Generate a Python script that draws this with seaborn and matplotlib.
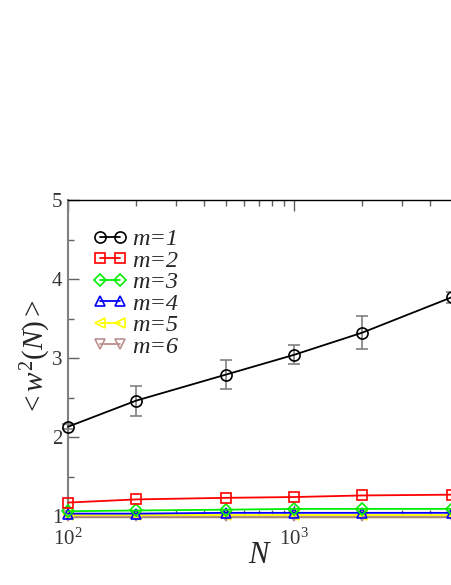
import numpy as np
import pandas as pd
import matplotlib
matplotlib.use('agg')
import matplotlib.pyplot as plt
import seaborn as sns
from matplotlib.ticker import LogLocator, MultipleLocator

# data
N = [100, 200, 500, 1000, 2000, 5000]
w2_m1 = [2.13, 2.46, 2.79, 3.04, 3.32, 3.77]
err_m1 = [0.03, 0.19, 0.18, 0.12, 0.21, 0.07]
w2_m2 = [1.17, 1.21, 1.23, 1.24, 1.26, 1.27]
w2_m3 = [1.06, 1.07, 1.08, 1.09, 1.09, 1.09]
w2_m4 = [1.03, 1.03, 1.04, 1.04, 1.04, 1.04]
w2_m5 = [1.01, 1.01, 1.01, 1.01, 1.01, 1.01]
w2_m6 = [1.00, 1.00, 1.00, 1.00, 1.00, 1.00]
labels = ['m=1', 'm=2', 'm=3', 'm=4', 'm=5', 'm=6']

series = [w2_m1, w2_m2, w2_m3, w2_m4, w2_m5, w2_m6]
colors = ['black', 'red', '#00ee00', 'blue', '#ffff00', '#bc8f8f']
markers = ['o', 's', 'D', '^', '<', 'v']
sizes = [8, 7, 6, 7, 7, 7]

sns.set_style('ticks')
plt.rcParams['font.family'] = ['Liberation Serif', 'DejaVu Serif']
plt.rcParams['mathtext.fontset'] = 'custom'
plt.rcParams['mathtext.rm'] = 'Liberation Serif'
plt.rcParams['mathtext.it'] = 'Liberation Serif:italic'

fig = plt.figure(figsize=(4.52, 5.85), dpi=100)
ax = fig.add_axes([68 / 452, 69 / 585, 1 - 68 / 452, 316 / 585])

# draw from bottom series up so m=1 is on top
for i in reversed(range(6)):
    sns.lineplot(x=N, y=series[i], ax=ax, color=colors[i], marker=markers[i],
                 markersize=sizes[i], markerfacecolor='none', markeredgecolor=colors[i],
                 markeredgewidth=1.2, linewidth=1.3, label=labels[i], clip_on=False,
                 zorder=3 + (6 - i))

ax.errorbar(N, w2_m1, yerr=err_m1, fmt='none', ecolor='#808080', elinewidth=1.2,
            capsize=4, capthick=1.2, zorder=2, clip_on=False)

ax.set_xscale('log')
ax.set_xlim(100, 5000)
ax.set_ylim(1, 5)
ax.yaxis.set_major_locator(MultipleLocator(1))
ax.yaxis.set_minor_locator(MultipleLocator(0.5))
ax.xaxis.set_major_locator(LogLocator(base=10))
ax.xaxis.set_minor_locator(LogLocator(base=10, subs=np.arange(2, 10)))

ax.tick_params(which='both', direction='in', top=True, right=False, colors='#606060',
               labelcolor='#333333', labelsize=15)
ax.tick_params(which='major', length=8, width=1)
ax.tick_params(which='minor', length=4, width=1)
ax.tick_params(axis='x', which='major', pad=9)
ax.tick_params(axis='y', which='major', pad=4)

ax.spines['left'].set_color('#808080')
ax.spines['left'].set_linewidth(1.5)
ax.spines['bottom'].set_color('#a08870')
ax.spines['bottom'].set_linewidth(2.5)
ax.spines['top'].set_color('black')
ax.spines['top'].set_linewidth(1)
ax.spines['right'].set_visible(False)

ax.set_xlabel('$N$', fontsize=22, labelpad=-6)
ax.set_ylabel(r'${<}w^{2}(N){>}$', fontsize=21, labelpad=-1)

handles, labs = ax.get_legend_handles_labels()
order = [labs.index(l) for l in labels]
leg = ax.legend([handles[k] for k in order], [labs[k] for k in order],
                loc='upper left', bbox_to_anchor=(85 / 452, 1 - 221 / 585),
                bbox_transform=fig.transFigure, frameon=False, numpoints=2,
                handlelength=1.45, handletextpad=0.2, labelspacing=-0.02,
                borderaxespad=0, borderpad=0.3,
                prop={'family': 'Liberation Serif', 'style': 'italic', 'size': 17.5})

fig.savefig('out.png', dpi=100)
